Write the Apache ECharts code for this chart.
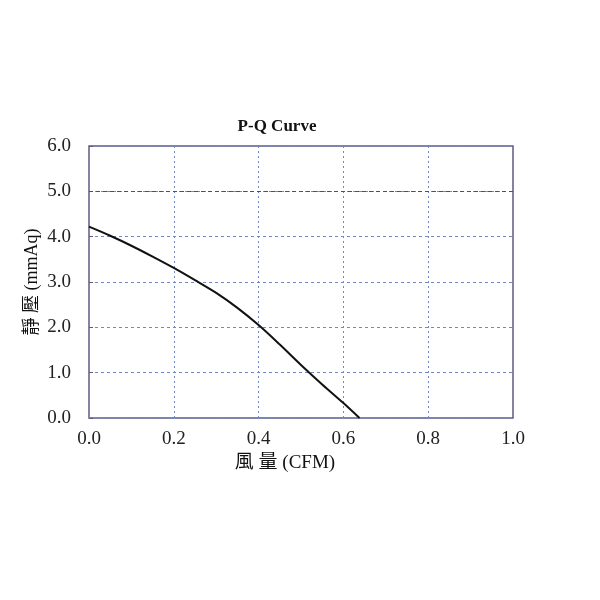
<!DOCTYPE html>
<html><head><meta charset="utf-8">
<script src="https://cdn.jsdelivr.net/npm/echarts@6/dist/echarts.min.js"></script>
<style>html,body{margin:0;padding:0;background:#fff}#c{width:600px;height:600px}</style>
</head><body><div id="c"></div>
<script>
const flow = [0, 0.05, 0.1, 0.15, 0.2, 0.25, 0.3, 0.35, 0.4, 0.45, 0.5, 0.55, 0.6, 0.638];
const pressure = [4.22, 4.02, 3.80, 3.56, 3.31, 3.04, 2.76, 2.43, 2.05, 1.62, 1.17, 0.74, 0.33, 0.0];
const refLine = [5.0];
const title = 'P-Q Curve';
const xName = '風 量 (CFM)';
const yName = '靜 壓 (mmAq)';
const serif = '"Liberation Serif","DejaVu Serif","Noto Sans CJK TC",serif';
const chart = echarts.init(document.getElementById('c'));
chart.setOption({
  backgroundColor: '#fff',
  animation: false,
  title: { text: title, left: 272, top: 113, textAlign: 'center',
    textStyle: { fontFamily: serif, fontSize: 17, fontWeight: 'bold', color: '#111' } },
  grid: { left: 89, right: 87, top: 146, bottom: 182, show: true, borderColor: '#5c5c80', borderWidth: 1.5 },
  xAxis: { type: 'value', min: 0, max: 1, interval: 0.2,
    name: xName, nameLocation: 'middle', nameGap: 36, nameMoveOverlap: false,
    nameTextStyle: { fontFamily: serif, fontSize: 19, color: '#111', padding: [0, 32, 0, 0] },
    axisLine: { show: false }, axisTick: { show: false },
    axisLabel: { margin: 12, fontFamily: serif, fontSize: 19, color: '#222', formatter: v => v.toFixed(1) },
    splitLine: { show: true, lineStyle: { color: '#7288c4', type: [2, 3], width: 1 } } },
  yAxis: { type: 'value', min: 0, max: 6, interval: 1,
    name: yName, nameLocation: 'middle', nameGap: 48, nameRotate: 90, nameMoveOverlap: false,
    nameTextStyle: { fontFamily: serif, fontSize: 18, color: '#111' },
    axisLine: { show: false },
    axisTick: { show: true, inside: true, length: 4, lineStyle: { color: '#5c5c80' } },
    axisLabel: { margin: 18, fontFamily: serif, fontSize: 19, color: '#222', formatter: v => v.toFixed(1) },
    splitLine: { show: true, lineStyle: { color: '#7288c4', type: [3, 3], width: 1 } } },
  series: [{
    type: 'line', smooth: 0.3, showSymbol: false,
    data: flow.map((x, i) => [x, pressure[i]]),
    lineStyle: { color: '#111', width: 2 },
    markLine: { silent: true, symbol: 'none', label: { show: false },
      lineStyle: { color: '#3a4f9a', type: [4, 3], width: 1.2 },
      data: refLine.map(v => ({ yAxis: v })) }
  }]
});
</script></body></html>
